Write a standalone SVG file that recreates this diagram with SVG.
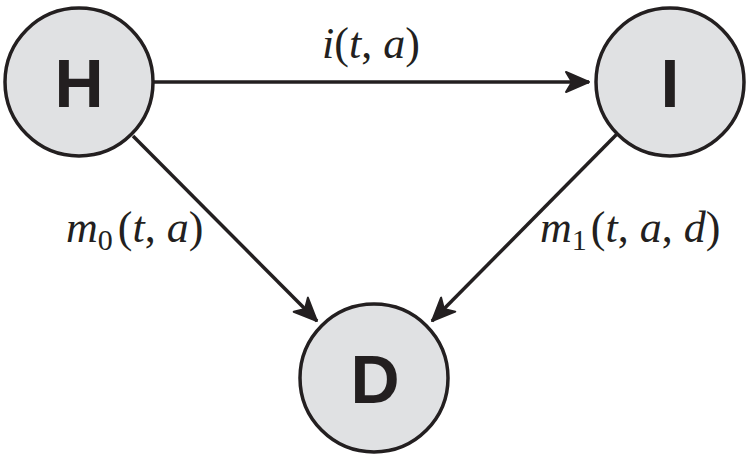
<svg xmlns="http://www.w3.org/2000/svg" width="750" height="461" viewBox="0 0 750 461">
<style>
.node{fill:#e0e1e3;stroke:#231f20;stroke-width:3.5}
.nl{font-family:"Liberation Sans",Arial,sans-serif;font-weight:bold;font-size:68px;fill:#231f20;text-anchor:middle}
.edge{stroke:#231f20;stroke-width:3.5;fill:none}
.lab{font-family:"Liberation Serif","Times New Roman",serif;font-style:italic;font-size:44px;fill:#231f20}
.up{font-style:normal}
.sub{font-style:normal;font-size:30px}
</style>
<defs>
<marker id="arr" markerUnits="userSpaceOnUse" viewBox="-26 -12 30 24" refX="0" refY="0" markerWidth="30" markerHeight="24" orient="auto">
<path d="M0,0 L-23,-10 L-17,0 L-23,10 Z" fill="#231f20" stroke="#231f20" stroke-width="2" stroke-linejoin="round"/>
</marker>
</defs>
<g id="connectors">
<line class="edge" x1="154" y1="82" x2="589" y2="82" marker-end="url(#arr)"/>
<line class="edge" x1="133" y1="136" x2="317" y2="321" marker-end="url(#arr)"/>
<line class="edge" x1="617" y1="134" x2="432" y2="321" marker-end="url(#arr)"/>
<text class="lab" x="322" y="58">i<tspan class="up">(</tspan>t<tspan class="up">, </tspan>a<tspan class="up">)</tspan></text>
<text class="lab" x="66" y="242">m<tspan class="sub" dy="8">0</tspan><tspan class="up" dy="-8" dx="5">(</tspan>t<tspan class="up">, </tspan>a<tspan class="up">)</tspan></text>
<text class="lab" x="540" y="242">m<tspan class="sub" dy="8">1</tspan><tspan class="up" dy="-8" dx="4">(</tspan>t<tspan class="up">, </tspan>a<tspan class="up">, </tspan>d<tspan class="up">)</tspan></text>
</g>
<g id="H"><circle class="node" cx="79" cy="82" r="74"/><text class="nl" x="79" y="107">H</text></g>
<g id="I"><circle class="node" cx="670" cy="82" r="74"/><text class="nl" x="670" y="107">I</text></g>
<g id="D"><circle class="node" cx="374" cy="378" r="74"/><text class="nl" x="375" y="403">D</text></g>
</svg>
